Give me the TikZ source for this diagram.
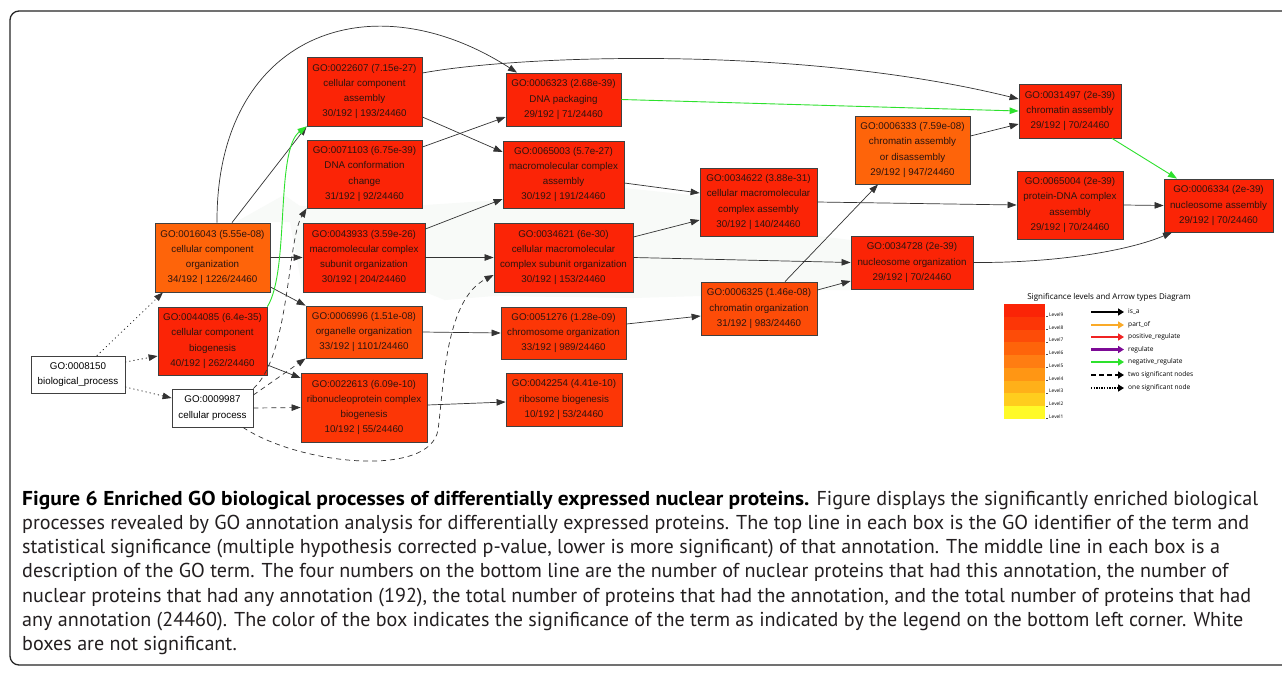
\documentclass[tikz,border=0pt]{standalone}
\usepackage{fontspec}
\setmainfont{Liberation Sans}
\newfontfamily\capfont{PT Sans}[BoldFeatures={FakeStretch=1.066}]
\newfontfamily\legfont{Open Sans}
\usetikzlibrary{arrows.meta}
\definecolor{Lnine}{RGB}{251,36,6}
\definecolor{Leight}{RGB}{252,54,6}
\definecolor{Lseven}{RGB}{253,76,8}
\definecolor{Lsix}{RGB}{254,100,10}
\definecolor{Lfive}{RGB}{255,125,18}
\definecolor{Lfour}{RGB}{255,150,20}
\definecolor{Lthree}{RGB}{255,176,25}
\definecolor{Ltwo}{RGB}{255,205,30}
\definecolor{Lone}{RGB}{255,250,40}
\definecolor{negc}{RGB}{45,225,45}
\definecolor{partc}{RGB}{250,170,40}
\definecolor{posc}{RGB}{240,35,35}
\definecolor{regc}{RGB}{125,10,150}
\definecolor{boxtext}{RGB}{45,20,15}
\definecolor{captext}{RGB}{35,31,32}
\definecolor{bgshade}{RGB}{248,250,248}
\begin{document}
\begin{tikzpicture}[x=1pt,y=-1pt,
  gobox/.style={draw=black!75, line width=0.8pt, text=boxtext, align=center, inner sep=0pt,
    font={\fontsize{9.8}{15.3}\selectfont}},
  isa/.style={draw=black!80, line width=0.7pt, -{Triangle[length=9pt,width=6.5pt]}},
  neg/.style={draw=negc, line width=0.9pt, -{Triangle[length=9pt,width=6.5pt]}},
  onesig/.style={isa, line cap=round, dash pattern=on 0.6pt off 3.6pt, line width=0.9pt},
  twosig/.style={isa, dash pattern=on 5pt off 4pt},
  legarrow/.style={line width=2.4pt, -{Triangle[length=6pt,width=7pt]}},
  leglabel/.style={anchor=west, inner sep=0pt, font={\legfont\fontsize{6.6}{7}\selectfont}},
  lvl/.style={anchor=base west, inner sep=0pt, font={\legfont\fontsize{4.8}{5}\selectfont}},
  capline/.style={anchor=base west, inner sep=0pt, text=captext, font={\capfont\fontsize{20.1}{24}\selectfont}}]
\useasboundingbox (0,0) rectangle (1282,675);
\fill[white] (0,0) rectangle (1282,675);
\begin{scope}
\clip (0,0) rectangle (1282,675);
\draw[line width=1.3pt, black!85, rounded corners=9pt] (10,11) rectangle (1310,665);
\end{scope}
% faint background
\fill[bgshade] (236,222) -- (284,195) -- (300,206) -- (425,205) -- (503,200) -- (624,188) -- (700,196)
  -- (700,236) -- (817,236) -- (851,240) -- (851,290) -- (817,290) -- (701,296) -- (633,298)
  -- (494,296) -- (445,300) -- (425,292) -- (303,292) -- (290,222) -- cycle;

% nodes
\node[gobox, fill=Lnine, minimum width=115pt, minimum height=69pt] (n22607) at (364.5,91.5)
  {GO:0022607 (7.15e-27)\\cellular component\\assembly\\30/192 | 193/24460};
\node[gobox, fill=Lnine, minimum width=115pt, minimum height=68pt] (n71103) at (364.5,174)
  {GO:0071103 (6.75e-39)\\DNA conformation\\change\\31/192 | 92/24460};
\node[gobox, fill=Lnine, minimum width=115pt, minimum height=53pt] (n6323) at (563.5,99.5)
  {GO:0006323 (2.68e-39)\\DNA packaging\\29/192 | 71/24460};
\node[gobox, fill=Lnine, minimum width=121pt, minimum height=67pt] (n65003) at (563.5,174.5)
  {GO:0065003 (5.7e-27)\\macromolecular complex\\assembly\\30/192 | 191/24460};
\node[gobox, fill=Lnine, minimum width=117pt, minimum height=68pt] (n34622) at (758.5,202)
  {GO:0034622 (3.88e-31)\\cellular macromolecular\\complex assembly\\30/192 | 140/24460};
\node[gobox, fill=Lnine, minimum width=102pt, minimum height=54pt] (n31497) at (1070,111)
  {GO:0031497 (2e-39)\\chromatin assembly\\29/192 | 70/24460};
\node[gobox, fill=Lsix, minimum width=115pt, minimum height=68pt] (n6333) at (912.5,150)
  {GO:0006333 (7.59e-08)\\chromatin assembly\\or disassembly\\29/192 | 947/24460};
\node[gobox, fill=Lnine, minimum width=106pt, minimum height=68pt] (n65004) at (1070,205)
  {GO:0065004 (2e-39)\\protein-DNA complex\\assembly\\29/192 | 70/24460};
\node[gobox, fill=Lnine, minimum width=109pt, minimum height=53pt] (n6334) at (1218.5,205.5)
  {GO:0006334 (2e-39)\\nucleosome assembly\\29/192 | 70/24460};
\node[gobox, fill=Lnine, minimum width=122pt, minimum height=53pt] (n34728) at (912,262.5)
  {GO:0034728 (2e-39)\\nucleosome organization\\29/192 | 70/24460};
\node[gobox, fill=Lsix, minimum width=115pt, minimum height=69pt] (n16043) at (212.5,257.5)
  {GO:0016043 (5.55e-08)\\cellular component\\organization\\34/192 | 1226/24460};
\node[gobox, fill=Lnine, minimum width=109pt, minimum height=68pt] (n44085) at (212.5,341)
  {GO:0044085 (6.4e-35)\\cellular component\\biogenesis\\40/192 | 262/24460};
\node[gobox, fill=white, text=black, minimum width=94pt, minimum height=37pt] (n8150) at (78,374.5)
  {GO:0008150\\biological\_process};
\node[gobox, fill=white, text=black, minimum width=81pt, minimum height=38pt] (n9987) at (212.5,408)
  {GO:0009987\\cellular process};
\node[gobox, fill=Lnine, minimum width=122pt, minimum height=69pt] (n43933) at (364,257.5)
  {GO:0043933 (3.59e-26)\\macromolecular complex\\subunit organization\\30/192 | 204/24460};
\node[gobox, fill=Lseven, minimum width=116pt, minimum height=52pt] (n6996) at (364,332)
  {GO:0006996 (1.51e-08)\\organelle organization\\33/192 | 1101/24460};
\node[gobox, fill=Leight, minimum width=126pt, minimum height=69pt] (n22613) at (364,407.5)
  {GO:0022613 (6.09e-10)\\ribonucleoprotein complex\\biogenesis\\10/192 | 55/24460};
\node[gobox, fill=Lnine, minimum width=139pt, minimum height=69pt] (n34621) at (563.5,257.5)
  {GO:0034621 (6e-30)\\cellular macromolecular\\complex subunit organization\\30/192 | 153/24460};
\node[gobox, fill=Leight, minimum width=125pt, minimum height=52pt] (n51276) at (563.5,333)
  {GO:0051276 (1.28e-09)\\chromosome organization\\33/192 | 989/24460};
\node[gobox, fill=Leight, minimum width=116pt, minimum height=53pt] (n42254) at (564,399.5)
  {GO:0042254 (4.41e-10)\\ribosome biogenesis\\10/192 | 53/24460};
\node[gobox, fill=Lseven, minimum width=116pt, minimum height=53pt] (n6325) at (759,308.5)
  {GO:0006325 (1.46e-08)\\chromatin organization\\31/192 | 983/24460};

% edges
\draw[isa] ([xshift=19.5pt]n16043.north) -- (n22607.south west);
\draw[isa] ([xshift=4.5pt]n16043.north) .. controls (216,35) and (370,-22) .. ([xshift=-46.5pt]n6323.north);
\draw[isa] ([yshift=18.5pt]n22607.east) .. controls (520,55) and (800,45) .. ([yshift=12pt]n31497.west);
\draw[neg] (n6323.east) -- (n31497.west);
\draw[isa] ([yshift=-25.5pt]n22607.east) -- ([yshift=22.5pt]n65003.west);
\draw[isa] ([yshift=27pt]n71103.east) -- ([yshift=-17.5pt]n6323.west);
\draw[isa] ([yshift=-8.5pt]n65003.east) -- ([yshift=9pt]n34622.west);
\draw[isa] ([yshift=28.5pt]n43933.east) -- ([yshift=-24.5pt]n65003.west);
\draw[isa] (n43933.east) -- (n34621.west);
\draw[isa] ([yshift=20.5pt]n34621.east) -- ([yshift=-18pt]n34622.west);
\draw[isa] (n34621.east) -- (n34728.west);
\draw[isa] (n34622.east) -- (n65004.west);
\draw[isa] ([xshift=26pt]n6325.north) -- ([xshift=-34.5pt]n6333.south);
\draw[isa] ([yshift=18.5pt]n6325.east) -- ([yshift=-18.5pt]n34728.west);
\draw[isa] ([yshift=14pt]n6333.east) -- ([yshift=-13pt]n31497.west);
\draw[neg] ([xshift=42pt]n31497.south) -- ([xshift=-41.5pt]n6334.north);
\draw[isa] (n65004.east) -- (n6334.west);
\draw[isa] (n34728.east) .. controls (1060,263) and (1130,250) .. ([xshift=-46.5pt]n6334.south);
\draw[isa] ([yshift=9pt]n51276.east) -- ([yshift=-7.5pt]n6325.west);
\draw[isa] (n6996.east) -- (n51276.west);
\draw[isa] ([yshift=2.5pt]n22613.east) -- ([yshift=-2.5pt]n42254.west);
\draw[isa] (n16043.east) -- (n43933.west);
\draw[isa] ([yshift=-29.5pt]n16043.east) -- (n6996.north west);
\draw[isa] ([yshift=-24pt]n44085.east) -- ([yshift=29.5pt]n22613.west);
\draw[onesig] ([xshift=19pt]n8150.north) -- ([xshift=-49.5pt]n16043.south);
\draw[onesig] ([yshift=12.5pt]n8150.east) -- ([yshift=-15pt]n44085.west);
\draw[onesig] ([yshift=-12.5pt]n8150.east) -- ([yshift=10pt]n9987.west);
\draw[twosig] (n9987.east) -- (n22613.west);
\draw[twosig] ([yshift=13pt]n9987.east) -- (n6996.south west);
\draw[twosig] (n9987.north east) .. controls (290,355) and (287,240) .. (n71103.south west);
\draw[twosig] ([xshift=30.5pt]n9987.south) .. controls (300,465) and (430,478) .. (438,430)
  .. controls (444,385) and (445,300) .. ([yshift=-17.5pt]n34621.west);
\draw[neg] (n44085.north east) .. controls (290,270) and (275,150) .. (n22607.south west);

% legend
\node[font={\legfont\fontsize{8}{9}\selectfont}, inner sep=0pt] (legtitle) at (1109,297)
  {Significance levels and Arrow types Diagram};
\foreach \c [count=\i] in {Lnine,Leight,Lseven,Lsix,Lfive,Lfour,Lthree,Ltwo,Lone}{
  \fill[\c] (1004,{304+12.78*(\i-1)}) rectangle (1045,{304+12.78*\i});
  \draw[black!70, line width=0.4pt] (1046,{304+12.78*\i-0.5}) -- (1048,{304+12.78*\i-0.5});
  \node[lvl] (lv\i) at (1049,{304+12.78*\i-0.5}) {Level\the\numexpr10-\i\relax};
}
\foreach \i/\y in {1/312,2/325,3/337,4/349.5,5/362,6/375,7/388}{
  \coordinate (la\i) at (1091,\y);
  \coordinate (lb\i) at (1124,\y);
}
\draw[legarrow, black] (la1) -- (lb1);
\draw[legarrow, partc] (la2) -- (lb2);
\draw[legarrow, posc] (la3) -- (lb3);
\draw[legarrow, regc] (la4) -- (lb4);
\draw[legarrow, negc] (la5) -- (lb5);
\draw[legarrow, black, dash pattern=on 4.5pt off 3.5pt] (la6) -- (lb6);
\draw[legarrow, black, dash pattern=on 1.3pt off 1.3pt] (la7) -- (lb7);
\node[leglabel] (t1) at (1128,312) {is\_a};
\node[leglabel] (t2) at (1128,325) {part\_of};
\node[leglabel] (t3) at (1128,337) {positive\_regulate};
\node[leglabel] (t4) at (1128,349.5) {regulate};
\node[leglabel] (t5) at (1128,362) {negative\_regulate};
\node[leglabel] (t6) at (1128,375) {two significant nodes};
\node[leglabel] (t7) at (1128,388) {one significant node};

% caption
\node[capline] (c1) at (22,505) {{\bfseries\color{black}Figure 6 Enriched GO biological processes of differentially expressed nuclear proteins.} Figure displays the significantly enriched biological};
\node[capline] (c2) at (22,529.3) {processes revealed by GO annotation analysis for differentially expressed proteins. The top line in each box is the GO identifier of the term and};
\node[capline] (c3) at (22,553.6) {statistical significance (multiple hypothesis corrected p-value, lower is more significant) of that annotation. The middle line in each box is a};
\node[capline] (c4) at (22,577.9) {description of the GO term. The four numbers on the bottom line are the number of nuclear proteins that had this annotation, the number of};
\node[capline] (c5) at (22,602.2) {nuclear proteins that had any annotation (192), the total number of proteins that had the annotation, and the total number of proteins that had};
\node[capline] (c6) at (22,626.5) {any annotation (24460). The color of the box indicates the significance of the term as indicated by the legend on the bottom left corner. White};
\node[capline] (c7) at (22,650.8) {boxes are not significant.};
\end{tikzpicture}
\end{document}
